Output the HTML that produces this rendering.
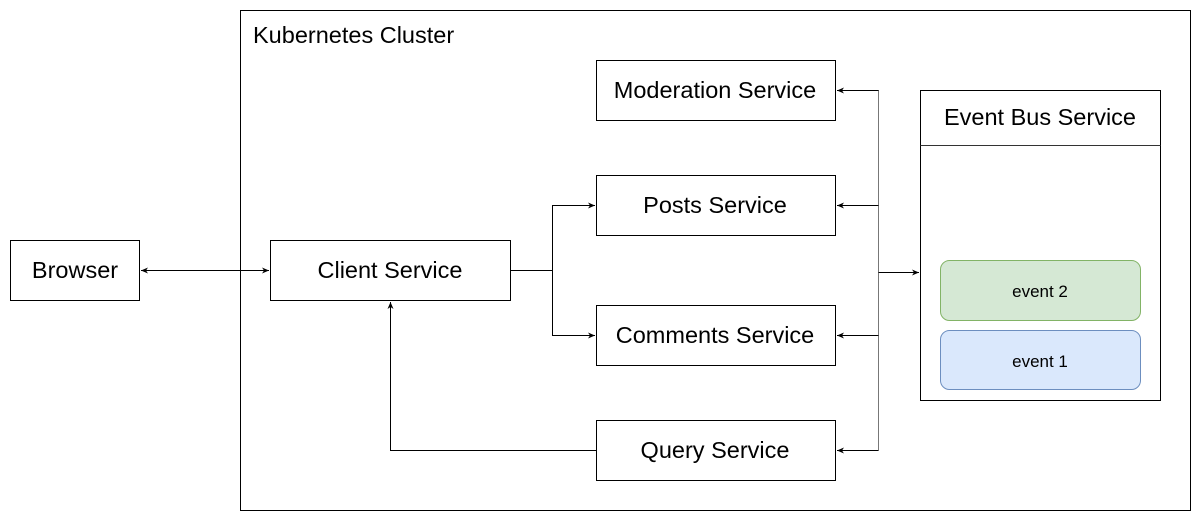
<!DOCTYPE html>
<html><head><meta charset="utf-8"><style>
body{margin:0;background:#fff;}
svg text{font-family:"Liberation Sans",Helvetica,Arial,sans-serif;}
</style></head><body>
<svg width="1201" height="521" viewBox="0 0 1201 521" xmlns="http://www.w3.org/2000/svg">
<defs>
<marker id="a" markerWidth="8" markerHeight="8" refX="7" refY="4" orient="auto" markerUnits="userSpaceOnUse">
<path d="M0,1 L7,4 L0,7 L2,4 Z" fill="#000"/></marker>
<marker id="s" markerWidth="8" markerHeight="8" refX="1" refY="4" orient="auto" markerUnits="userSpaceOnUse">
<path d="M8,1 L1,4 L8,7 L6,4 Z" fill="#000"/></marker>
</defs>
<g fill="#fff" stroke="#000" stroke-width="1">
<rect x="240.5" y="10.5" width="950" height="500"/>
<rect x="10.5" y="240.5" width="129" height="60"/>
<rect x="270.5" y="240.5" width="240" height="60"/>
<rect x="596.5" y="60.5" width="239" height="60"/>
<rect x="596.5" y="175.5" width="239" height="60"/>
<rect x="596.5" y="305.5" width="239" height="60"/>
<rect x="596.5" y="420.5" width="239" height="60"/>
<rect x="920.5" y="90.5" width="240" height="310"/>
</g>
<line x1="920.5" y1="145.5" x2="1160.5" y2="145.5" stroke="#333"/>
<rect x="940.5" y="260.5" width="200" height="60" rx="9" fill="#d5e8d4" stroke="#82b366"/>
<rect x="940.5" y="330.5" width="200" height="59" rx="9" fill="#dae8fc" stroke="#6c8ebf"/>
<g fill="none" stroke="#000" stroke-width="1">
<line x1="141" y1="270.5" x2="269" y2="270.5" marker-start="url(#s)" marker-end="url(#a)"/>
<path d="M511 270.5 H552.5 V205.5 H595" marker-end="url(#a)"/>
<path d="M552.5 270.5 V335.5 H595" marker-end="url(#a)"/>
<path d="M596 450.5 H390.5 V302" marker-end="url(#a)"/>
<line x1="878.5" y1="90" x2="878.5" y2="450.5" stroke="#777"/>
<line x1="878.5" y1="90.5" x2="837" y2="90.5" marker-end="url(#a)"/>
<line x1="878.5" y1="205.5" x2="837" y2="205.5" marker-end="url(#a)"/>
<line x1="878.5" y1="335.5" x2="837" y2="335.5" marker-end="url(#a)"/>
<line x1="878.5" y1="450.5" x2="837" y2="450.5" marker-end="url(#a)"/>
<line x1="878.5" y1="272.5" x2="919" y2="272.5" marker-end="url(#a)"/>
</g>
<g font-size="23.5" fill="#000" text-anchor="middle">
<text x="75" y="278">Browser</text>
<text x="390" y="278">Client Service</text>
<text x="715" y="98">Moderation Service</text>
<text x="715" y="213">Posts Service</text>
<text x="715" y="343">Comments Service</text>
<text x="715" y="458">Query Service</text>
<text x="1040" y="125">Event Bus Service</text>
</g>
<text x="253" y="43" font-size="23.5">Kubernetes Cluster</text>
<g font-size="17" text-anchor="middle">
<text x="1040" y="297">event 2</text>
<text x="1040" y="367">event 1</text>
</g>
</svg>
</body></html>
